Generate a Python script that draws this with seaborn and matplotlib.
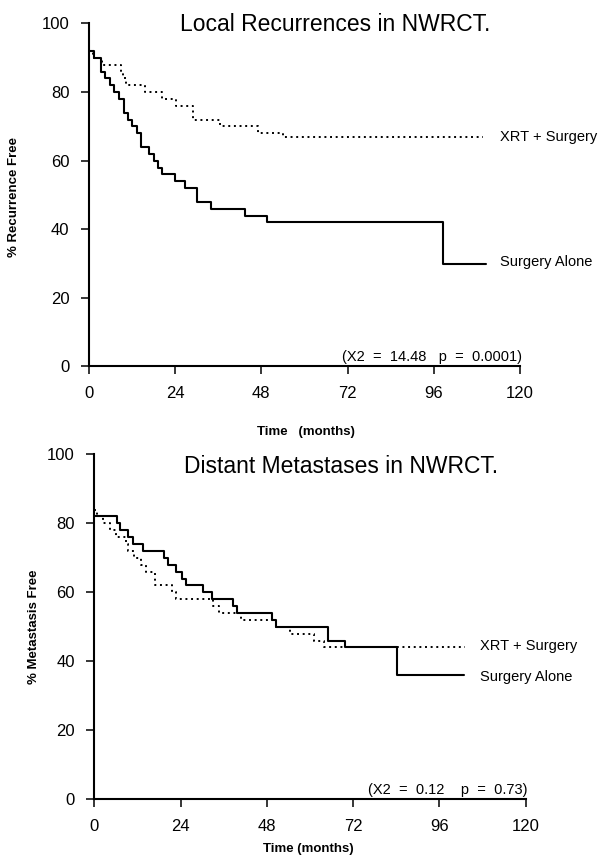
import numpy as np
import pandas as pd
import seaborn as sns
import matplotlib.pyplot as plt

# step curves: time of each drop (months) and % free after it
lr_surg_t = [0, 1.3, 3.4, 4.6, 5.75, 7.0, 8.35, 9.65, 10.85, 12.1, 13.4, 14.6, 16.7,
             18.0, 19.2, 20.4, 24.0, 26.6, 30.2, 34.0, 43.5, 49.6, 98.5, 110.5]
lr_surg_v = [92, 90, 86, 84, 82, 80, 78, 74, 72, 70, 68, 64, 62,
             60, 58, 56, 54, 52, 48, 46, 44, 42, 30, 30]
lr_xrt_t = [0, 1.0, 3.6, 8.8, 9.5, 10.4, 15.7, 20.4, 24.2, 28.9, 36.4, 47.0, 53.9, 109.7]
lr_xrt_v = [92, 90, 88, 86, 84, 82, 80, 78, 76, 72, 70, 68, 67, 67]

dm_surg_t = [0, 6.25, 7.2, 9.3, 10.9, 13.5, 19.5, 20.4, 22.7, 24.3, 25.4, 30.3, 32.8,
             38.7, 39.6, 49.3, 50.5, 65.1, 69.7, 84.1, 102.7]
dm_surg_v = [82, 80, 78, 76, 74, 72, 70, 68, 66, 64, 62, 60, 58,
             56, 54, 52, 50, 46, 44, 36, 36]
dm_xrt_t = [0, 0.8, 2.5, 4.5, 6.0, 8.8, 9.4, 11.0, 13.0, 14.5, 16.8, 21.7, 22.8,
            33.0, 34.8, 40.8, 50.5, 54.5, 61.0, 63.8, 103.2]
dm_xrt_v = [84, 82, 80, 78, 76, 74, 72, 70, 68, 66, 62, 60, 58,
            56, 54, 52, 50, 48, 46, 44, 44]

x_ticks = [0, 24, 48, 72, 96, 120]
y_ticks = [0, 20, 40, 60, 80, 100]

sns.set_style("ticks")
plt.rcParams['font.family'] = ['Liberation Sans', 'DejaVu Sans']
plt.rcParams['text.color'] = 'black'
plt.rcParams['axes.labelcolor'] = 'black'
plt.rcParams['xtick.color'] = 'black'
plt.rcParams['ytick.color'] = 'black'

fig = plt.figure(figsize=(6.02, 8.67), dpi=100)
ax1 = fig.add_axes([0.1478, 0.5773, 0.7159, 0.3956])
ax2 = fig.add_axes([0.1565, 0.0781, 0.7169, 0.3979])

dotted = (0, (1, 1.9))


def draw_panel(ax, surg_t, surg_v, xrt_t, xrt_v, title, title_y, ylab, xlab, stats,
               lab_x, xrt_lab_y, surg_lab_y):
    df_s = pd.DataFrame({'t': surg_t, 'v': surg_v})
    df_x = pd.DataFrame({'t': xrt_t, 'v': xrt_v})
    sns.lineplot(data=df_x, x='t', y='v', ax=ax, color='black', linewidth=1.4,
                 linestyle=dotted, drawstyle='steps-post', estimator=None, sort=False)
    sns.lineplot(data=df_s, x='t', y='v', ax=ax, color='black', linewidth=1.5,
                 drawstyle='steps-post', estimator=None, sort=False)
    ax.set_xlim(0, 120)
    ax.set_ylim(0, 100)
    ax.set_xticks(x_ticks)
    ax.set_yticks(y_ticks)
    ax.tick_params(axis='both', direction='out', length=6, width=1.1,
                   labelsize=12, pad=8, color='black', labelcolor='black')
    sns.despine(ax=ax)
    for sp in ('left', 'bottom'):
        ax.spines[sp].set_linewidth(1.5)
        ax.spines[sp].set_color('black')
    ax.set_xlabel(xlab, fontsize=9.5, fontweight='bold')
    ax.set_ylabel(ylab, fontsize=9.5, fontweight='bold')
    ax.text(68.5, title_y, title, ha='center', va='center', fontsize=16.5)
    ax.text(120.5, 0.8, stats, ha='right', va='bottom', fontsize=10.5)
    ax.text(lab_x, xrt_lab_y, 'XRT + Surgery', ha='left', va='center', fontsize=10.5)
    ax.text(lab_x, surg_lab_y, 'Surgery Alone', ha='left', va='center', fontsize=10.5)


draw_panel(ax1, lr_surg_t, lr_surg_v, lr_xrt_t, lr_xrt_v,
           'Local Recurrences in NWRCT.', 99.6, '% Recurrence Free', 'Time   (months)',
           '(X2  =  14.48   p  =  0.0001)', 114.4, 66.8, 30.5)
draw_panel(ax2, dm_surg_t, dm_surg_v, dm_xrt_t, dm_xrt_v,
           'Distant Metastases in NWRCT.', 96.4, '% Metastasis Free', 'Time (months)',
           '(X2  =  0.12    p  =  0.73)', 107.3, 44.4, 35.4)

ax1.xaxis.set_label_coords(0.503, -0.173)
ax1.yaxis.set_label_coords(-0.160, 0.495)
ax2.xaxis.set_label_coords(0.495, -0.126)
ax2.yaxis.set_label_coords(-0.126, 0.50)

fig.savefig('out.png', dpi=100, facecolor='white')
